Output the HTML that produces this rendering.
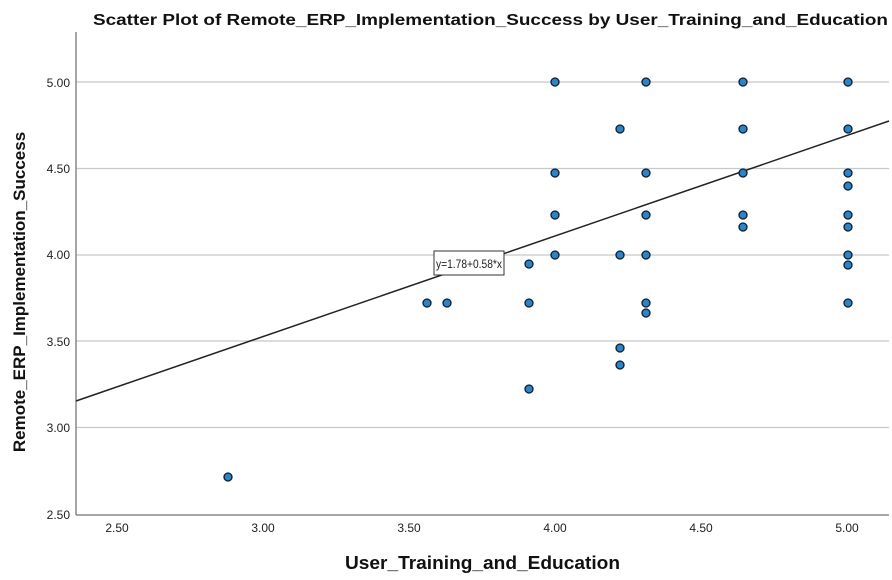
<!DOCTYPE html><html><head><style>body{margin:0;background:#fff}</style></head><body>
<svg width="892" height="575" xmlns="http://www.w3.org/2000/svg" font-family="Liberation Sans, Arial, sans-serif">
<rect width="892" height="575" fill="#fff"/>
<text x="93" y="25" font-size="16" font-weight="bold" fill="#111" textLength="795" lengthAdjust="spacingAndGlyphs">Scatter Plot of Remote_ERP_Implementation_Success by User_Training_and_Education</text>
<g stroke="#c8c8c8" stroke-width="1.3">
<line x1="76" x2="889" y1="82" y2="82"/><line x1="76" x2="889" y1="168.5" y2="168.5"/><line x1="76" x2="889" y1="255" y2="255"/><line x1="76" x2="889" y1="341" y2="341"/><line x1="76" x2="889" y1="427.5" y2="427.5"/>
</g>
<line x1="76" y1="32" x2="76" y2="515" stroke="#888" stroke-width="1.5"/>
<line x1="76" y1="515" x2="889" y2="515" stroke="#888" stroke-width="1.5"/>
<g font-size="12" fill="#222" text-anchor="end">
<text x="70" y="87">5.00</text><text x="70" y="173">4.50</text><text x="70" y="259">4.00</text><text x="70" y="346">3.50</text><text x="70" y="432">3.00</text><text x="70" y="519">2.50</text>
</g>
<g font-size="12" fill="#222" text-anchor="middle">
<text x="117" y="532">2.50</text><text x="263" y="532">3.00</text><text x="409" y="532">3.50</text><text x="555" y="532">4.00</text><text x="701" y="532">4.50</text><text x="847" y="532">5.00</text>
</g>
<text x="345" y="569" font-size="18" font-weight="bold" fill="#111" textLength="275" lengthAdjust="spacingAndGlyphs">User_Training_and_Education</text>
<text transform="translate(25,292) rotate(-90)" font-size="17" font-weight="bold" text-anchor="middle" fill="#111">Remote_ERP_Implementation_Success</text>
<line x1="76" y1="401" x2="889" y2="121" stroke="#222" stroke-width="1.5"/>
<g fill="#1e88d8" stroke="#1a1a1a" stroke-width="1.3">
<circle cx="555" cy="82" r="4"/><circle cx="555" cy="173" r="4"/><circle cx="555" cy="215" r="4"/><circle cx="555" cy="255" r="4"/>
<circle cx="646" cy="82" r="4"/><circle cx="646" cy="173" r="4"/><circle cx="646" cy="215" r="4"/><circle cx="646" cy="255" r="4"/><circle cx="646" cy="303" r="4"/><circle cx="646" cy="313" r="4"/>
<circle cx="743" cy="82" r="4"/><circle cx="743" cy="129" r="4"/><circle cx="743" cy="173" r="4"/><circle cx="743" cy="215" r="4"/><circle cx="743" cy="227" r="4"/>
<circle cx="848" cy="82" r="4"/><circle cx="848" cy="129" r="4"/><circle cx="848" cy="173" r="4"/><circle cx="848" cy="186" r="4"/><circle cx="848" cy="215" r="4"/><circle cx="848" cy="227" r="4"/><circle cx="848" cy="255" r="4"/><circle cx="848" cy="265" r="4"/><circle cx="848" cy="303" r="4"/>
<circle cx="620" cy="129" r="4"/><circle cx="620" cy="255" r="4"/><circle cx="620" cy="348" r="4"/><circle cx="620" cy="365" r="4"/>
<circle cx="427" cy="303" r="4"/><circle cx="447" cy="303" r="4"/><circle cx="529" cy="303" r="4"/><circle cx="529" cy="389" r="4"/><circle cx="529" cy="264" r="4"/>
<circle cx="228" cy="477" r="4"/>
</g>
<rect x="434" y="251" width="70" height="24" fill="#fff" stroke="#333" stroke-width="1"/>
<text x="436" y="268" font-size="12" fill="#222" textLength="66" lengthAdjust="spacingAndGlyphs">y=1.78+0.58*x</text>
</svg>
</body></html>
